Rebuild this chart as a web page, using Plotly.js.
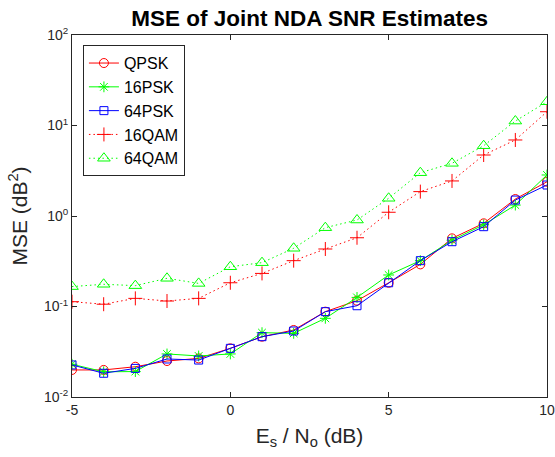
<!DOCTYPE html>
<html><head><meta charset="utf-8">
<script src="https://cdn.plot.ly/plotly-3.0.1.min.js"></script>
<style>body{margin:0;padding:0;background:#fff}#chart{width:555px;height:457px}</style>
</head><body><div id="chart"></div>
<script>
const snr = [-5,-4,-3,-2,-1,0,1,2,3,4,5,6,7,8,9,10];
const qpsk  = [0.0199,0.0199,0.0216,0.0250,0.0267,0.0345,0.0464,0.0550,0.0877,0.116,0.183,0.292,0.566,0.830,1.54,2.39];
const psk16 = [0.0230,0.0190,0.0191,0.0299,0.0284,0.0299,0.0514,0.0505,0.0740,0.126,0.223,0.321,0.540,0.800,1.32,2.84];
const psk64 = [0.0226,0.0183,0.0207,0.0263,0.0256,0.0345,0.0464,0.0536,0.0877,0.102,0.183,0.321,0.520,0.762,1.50,2.20];
const qam16 = [0.113,0.106,0.123,0.115,0.123,0.183,0.232,0.321,0.432,0.575,1.10,1.86,2.44,4.72,6.92,14.2];
const qam64 = [0.166,0.176,0.170,0.205,0.180,0.275,0.305,0.440,0.743,0.903,1.57,3.01,3.82,5.98,11.2,18.3];
const names = ['QPSK','16PSK','64PSK','16QAM','64QAM'];
const xTicks = [-5,0,5,10];
const yTicks = [0.01,0.1,1,10,100];
const yTickText = ['10<sup>-2</sup>','10<sup>-1</sup>','10<sup>0</sup>','10<sup>1</sup>','10<sup>2</sup>'];

const minorVals = [];
for (let e=-2; e<2; e++) for (let m=2; m<=9; m++) minorVals.push(m*Math.pow(10,e));

const FONT = 'Liberation Sans, Arial, sans-serif';
function tr(name, y, color, dash, symbol, size){
  return {x: snr, y: y, name: name, type:'scatter', mode:'lines+markers',
    line:{color:color, width:1, dash:dash},
    marker:{symbol:symbol, size:size, color:color, line:{color:color, width:1}}};
}
const DOT = '1.5px,3px';
const data = [
  tr(names[0], qpsk, '#FF0000', 'solid', 'circle-open', 9),
  tr(names[1], psk16, '#00FF00', 'solid', 'asterisk-open', 9),
  tr(names[2], psk64, '#0000FF', 'solid', 'square-open', 8),
  tr(names[3], qam16, '#FF0000', DOT, 'cross-thin-open', 10),
  tr(names[4], qam64, '#00FF00', DOT, 'triangle-up-open', 11)
];
const axisCommon = {showline:true, linecolor:'#262626', linewidth:1, mirror:'ticks',
  ticks:'inside', ticklen:5, tickcolor:'#262626', showgrid:false, zeroline:false, automargin:false,
  tickfont:{family:FONT, size:14, color:'#262626'}};
const layout = {
  width:555, height:457,
  margin:{l:72, r:8, t:35, b:60},
  paper_bgcolor:'#fff', plot_bgcolor:'#fff',
  title:{text:'<b>MSE of Joint NDA SNR Estimates</b>', x:0.558, xanchor:'center', y:0.96, yanchor:'middle',
    font:{family:FONT, size:22.5, color:'#000'}},
  xaxis: Object.assign({}, axisCommon, {range:[-5,10], tickmode:'array', tickvals:xTicks, ticktext:xTicks.map(String),
    title:{text:'E<sub>s</sub> / N<sub>o</sub> (dB)', standoff:11,
      font:{family:FONT, size:21, color:'#262626'}}}),
  yaxis: Object.assign({}, axisCommon, {type:'log', range:[-2,2], tickmode:'array', tickvals:yTicks, ticktext:yTickText,
    title:{text:'MSE (dB<sup>2</sup>)', standoff:10,
      font:{family:FONT, size:21, color:'#262626'}}}),
  yaxis2: {overlaying:'y', type:'log', range:[-2,2], tickmode:'array', tickvals:minorVals, ticks:'inside', ticklen:3,
    tickcolor:'#262626', showticklabels:false, showline:false, showgrid:false, zeroline:false, side:'left', automargin:false},
  yaxis3: {overlaying:'y', type:'log', range:[-2,2], tickmode:'array', tickvals:minorVals, ticks:'inside', ticklen:3,
    tickcolor:'#262626', showticklabels:false, showline:false, showgrid:false, zeroline:false, side:'right', automargin:false},
  legend:{x:0.023, y:0.972, xanchor:'left', yanchor:'top', bgcolor:'#fff',
    bordercolor:'#262626', borderwidth:1, tracegroupgap:0,
    font:{family:FONT, size:16, color:'#000'}},
  showlegend:true
};
Plotly.newPlot('chart', data, layout, {displayModeBar:false, staticPlot:true});
</script></body></html>
